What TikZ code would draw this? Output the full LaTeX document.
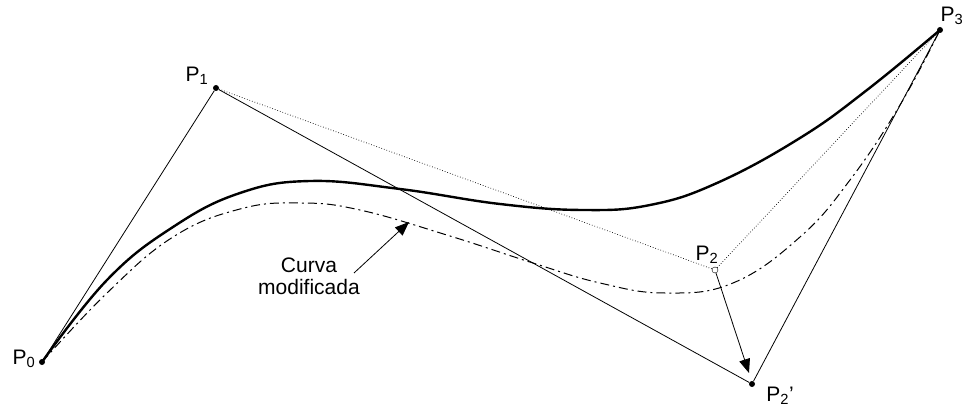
\documentclass[tikz,border=0pt]{standalone}
\usepackage{fontspec}
\setmainfont{Liberation Sans}
\usetikzlibrary{arrows.meta}

\tikzstyle{ctrl}=[circle,fill,minimum size=6pt,inner sep=0pt]
\tikzstyle{open ctrl}=[circle,draw,fill=white,thin,minimum size=6pt,inner sep=0pt]
\tikzstyle{hull}=[draw,line width=0.8pt]
\tikzstyle{poly}=[draw,line width=0.7pt,dotted]
\tikzstyle{label}=[font=\fontsize{21}{25}\selectfont]
\tikzstyle{move}=[draw,line width=0.8pt,-{Triangle[length=14pt,width=11pt]}]
\tikzstyle{curve}=[line width=2.4pt]
\tikzstyle{new curve}=[line width=1pt,dash pattern=on 9pt off 4pt on 2pt off 4pt]
\newcommand{\pxscale}{1pt}

\begin{document}
\begin{tikzpicture}[x=\pxscale, y=-\pxscale]
    \useasboundingbox (0,0) rectangle (962,412);
    % control points
    \foreach \pos/\name in {{(42,362)/p0}, {(216,88)/p1}, {(752,384)/q2}, {(940,30)/p3}}
        \node[ctrl] (\name) at \pos {};
    \node[open ctrl] (p2) at (715,270) {};
    % labels of the points
    \node[label] (l0) at (24,359) {P\textsubscript{0}};
    \node[label] (l1) at (197,76) {P\textsubscript{1}};
    \node[label] (l2) at (707,255) {P\textsubscript{2}};
    \node[label] (l2b) at (780,396) {P\textsubscript{2}'};
    \node[label] (l3) at (952,16) {P\textsubscript{3}};
    % polygons
    \foreach \source/ \dest in {p1/p2,p2/p3}
        \path[poly] (\source) -- (\dest);
    \foreach \source/ \dest in {p0/p1,p1/q2,q2/p3}
        \path[hull] (\source) -- (\dest);
    % the two curves
    \draw[curve] plot[smooth, tension=0.7] coordinates {(p0.center) (107,280)
        (173,227) (240,193) (310,181) (400,189) (500,204) (583,210) (650,205)
        (717,183) (800,138) (867,90) (p3.center)};
    \draw[new curve] plot[smooth, tension=0.7] coordinates {(p0.center) (107,293)
        (173,237) (240,209) (300,203) (360,210) (450,236) (533,263) (600,283)
        (665,293) (733,283) (800,237) (850,180) (900,105) (p3.center)};
    % moving P2
    \path[move] (p2) -- ([shift={(-3,-11)}]q2.center);
    \node[label, align=center] (curva) at (309,276) {Curva\\[-3pt]modificada};
    \coordinate (tail) at (354,273);
    \coordinate (hit) at (409,222);
    \path[move] (tail) -- (hit);
\end{tikzpicture}
\end{document}
